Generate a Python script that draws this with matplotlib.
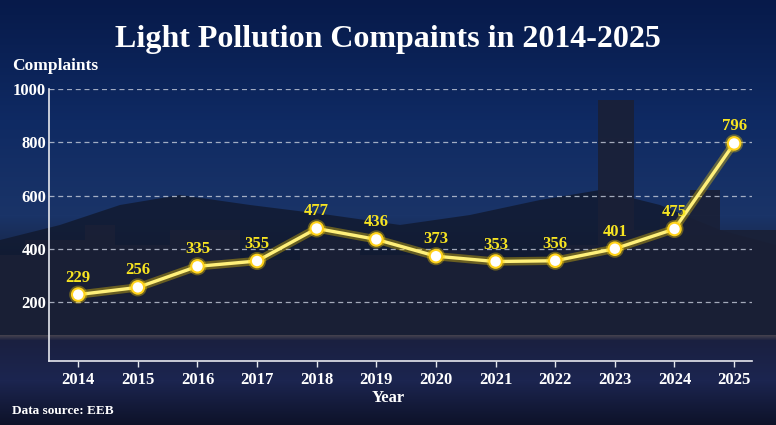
import numpy as np
import matplotlib
matplotlib.use("Agg")
import matplotlib.pyplot as plt
import matplotlib.patheffects as pe
from matplotlib.colors import to_rgb

# data
years = [2014, 2015, 2016, 2017, 2018, 2019, 2020, 2021, 2022, 2023, 2024, 2025]
complaints = [229, 256, 335, 355, 477, 436, 373, 353, 356, 401, 475, 796]
yticks = [200, 400, 600, 800, 1000]

plt.rcParams['font.family'] = ['Liberation Serif', 'DejaVu Serif']

W, H = 776, 425
fig = plt.figure(figsize=(W / 100, H / 100), dpi=100)

# background: night sky / skyline / harbour gradient
bg = fig.add_axes([0, 0, 1, 1])
stops = [(0, '#071a4a'), (120, '#0f2a63'), (215, '#1a3468'),
         (260, '#172443'), (325, '#141a2c'), (334, '#4a4650'),
         (340, '#1a2040'), (380, '#1c2550'), (425, '#0d1228')]
rows = np.arange(H)
pos = [s[0] for s in stops]
cols = np.array([to_rgb(s[1]) for s in stops])
grad = np.stack([np.interp(rows, pos, cols[:, k]) for k in range(3)], axis=1)
img = np.repeat(grad[:, None, :], W, axis=1)
bg.imshow(img, aspect='auto', extent=[0, W, H, 0])
# hills and towers silhouette (decoration only)
hx = [0, 60, 120, 180, 250, 330, 400, 470, 540, 600, 660, 720, 776]
hy = [240, 225, 205, 195, 205, 215, 225, 215, 200, 190, 205, 230, 245]
bg.fill_between(hx, hy, 335, color='#111a30', alpha=0.85, lw=0)
bx = [0, 25, 25, 85, 85, 115, 115, 170, 170, 240, 240, 300, 300, 360, 360,
      420, 420, 490, 490, 560, 560, 598, 598, 634, 634, 660, 660, 690, 690,
      720, 720, 776]
by = [255, 255, 240, 240, 225, 225, 245, 245, 230, 230, 260, 260, 240, 240,
      255, 255, 250, 250, 262, 262, 245, 245, 100, 100, 230, 230, 215, 215,
      190, 190, 230, 230]
bg.fill_between(bx, by, 335, color='#1a2036', alpha=0.9, lw=0)
bg.set_xlim(0, W)
bg.set_ylim(H, 0)
bg.axis('off')

ax = fig.add_axes([49 / W, 1 - 361 / H, (752 - 49) / W, (361 - 89) / H])
ax.patch.set_alpha(0)

glow = [pe.Stroke(linewidth=6, foreground='#ffd400', alpha=0.35), pe.Normal()]
ax.plot(years, complaints, color='#fff07a', lw=2.4, zorder=3,
        path_effects=glow, solid_capstyle='round')
ax.plot(years, complaints, 'o', ms=9, mfc='white', mec='#ffd21a', mew=1.5,
        zorder=4,
        path_effects=[pe.Stroke(linewidth=4, foreground='#ffd400', alpha=0.35),
                      pe.Normal()])

for x, y in zip(years, complaints):
    ax.annotate(str(y), (x, y), xytext=(0, 6.5), textcoords='offset points',
                ha='center', va='bottom', color='#f7e421', fontsize=12,
                fontweight='bold', zorder=5)

ax.set_xlim(2013.51, 2025.3)
ax.set_ylim(-20, 1000)
ax.set_xticks(years)
ax.set_yticks(yticks)
ax.tick_params(axis='x', colors='#e6e8ee', labelsize=12, length=4, width=1,
               pad=4, labelcolor='white')
ax.tick_params(axis='y', length=0, pad=2, labelsize=12, labelcolor='white')
for lab in ax.get_xticklabels() + ax.get_yticklabels():
    lab.set_fontweight('bold')
ax.grid(axis='y', color='#c8cedc', ls=(0, (4, 3)), lw=0.9, alpha=0.8)
ax.set_axisbelow(True)
for s in ['top', 'right']:
    ax.spines[s].set_visible(False)
for s in ['left', 'bottom']:
    ax.spines[s].set_color('#e6e8ee')
    ax.spines[s].set_linewidth(1.2)

fig.text(0.5, 1 - 40 / H, 'Light Pollution Compaints in 2014-2025',
         ha='center', va='center', color='white', fontsize=23,
         fontweight='bold')
fig.text(12 / W, 1 - 66 / H, 'Complaints', ha='left', va='center',
         color='white', fontsize=12.5, fontweight='bold')
fig.text(388 / W, 1 - 398 / H, 'Year', ha='center', va='center',
         color='white', fontsize=12, fontweight='bold')
fig.text(12 / W, 1 - 411 / H, 'Data source: EEB', ha='left', va='center',
         color='white', fontsize=9.5, fontweight='bold')

fig.savefig('out.png', dpi=100)
